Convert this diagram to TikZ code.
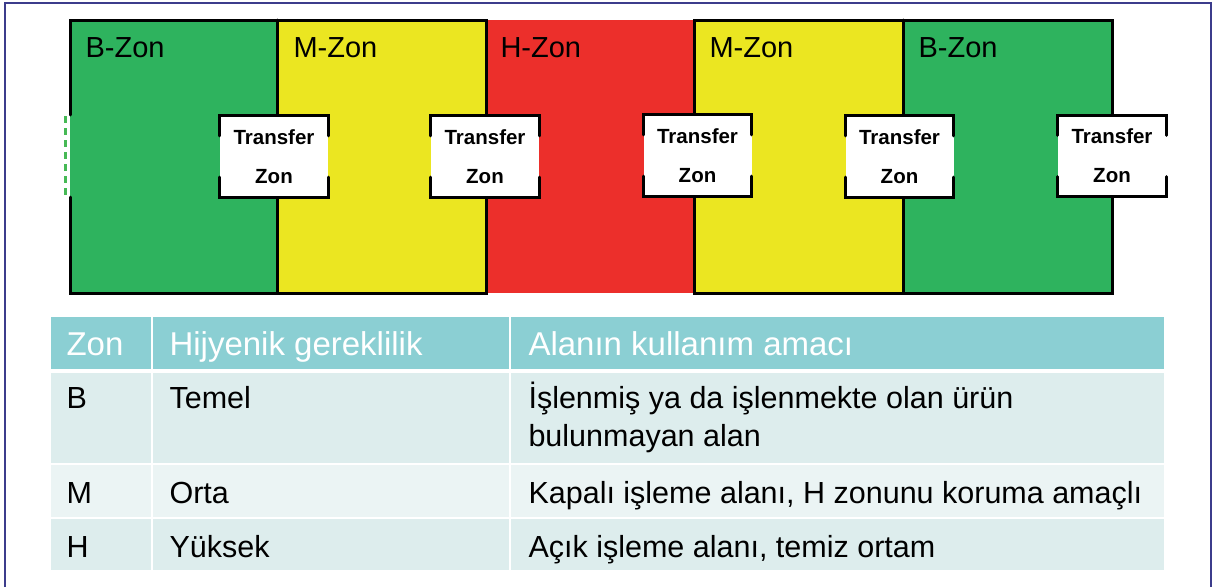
\documentclass[tikz,border=0pt]{standalone}
\usepackage{fontspec}
\setmainfont{Liberation Sans}
\definecolor{zgreen}{RGB}{46,179,94}
\definecolor{zyellow}{RGB}{235,230,33}
\definecolor{zred}{RGB}{236,47,43}
\definecolor{dashgreen}{RGB}{70,185,85}
\definecolor{thead}{RGB}{139,207,211}
\definecolor{trowa}{RGB}{221,237,237}
\definecolor{trowb}{RGB}{235,244,244}
\definecolor{frameblue}{RGB}{60,60,140}

\tikzset{
	wall/.style={line width=3pt, line cap=round},
	transfer/.style={fill=white, minimum width=108pt, minimum height=81pt, inner sep=0pt,
		align=center, font=\fontsize{20.5}{39}\selectfont\bfseries},
	zonlabel/.style={anchor=base west, font=\fontsize{29}{30}\selectfont},
	hdr/.style={anchor=base west, text=white, font=\fontsize{33}{36}\selectfont},
	txt/.style={anchor=base west, align=left, font=\fontsize{30.5}{38}\selectfont},
}

\begin{document}
\begin{tikzpicture}[x=1pt,y=-1pt]
		\useasboundingbox (0,0) rectangle (1217,587);
		\draw[frameblue, line width=1.5pt] (5,587) -- (5,3) -- (1211,3) -- (1211,587);

		% zones
		\fill[zgreen] (70,20) rectangle (277,293);
		\fill[zyellow] (277,20) rectangle (486,293);
		\fill[zred] (486,20) rectangle (694,293);
		\fill[zyellow] (694,20) rectangle (903,293);
		\fill[zgreen] (903,20) rectangle (1112,293);
		\draw[wall] (70,115) -- (70,20) -- (486,20) -- (486,293) -- (70,293) -- (70,197);
		\draw[wall] (277,20) -- (277,293);
		\draw[wall] (694,293) -- (694,20) -- (1112,20) -- (1112,293) -- cycle;
		\draw[wall] (903,20) -- (903,293);
		\draw[dashgreen, line width=3pt, dash pattern=on 7pt off 5pt] (65,116) -- (65,196);

		\node[zonlabel] (lb1) at (82,57) {B-Zon};
		\node[zonlabel] (lm1) at (290,57) {M-Zon};
		\node[zonlabel] (lh) at (497,57) {H-Zon};
		\node[zonlabel] (lm2) at (706,57) {M-Zon};
		\node[zonlabel] (lb2) at (915,57) {B-Zon};

		% transfer zones
		\node[transfer] (t1) at (274,156.5) {Transfer\\Zon};
		\node[transfer] (t2) at (485,156.5) {Transfer\\Zon};
		\node[transfer] (t3) at (697.5,155.5) {Transfer\\Zon};
		\node[transfer] (t4) at (899.5,156.5) {Transfer\\Zon};
		\node[transfer] (t5) at (1112,156) {Transfer\\Zon};
		\draw[wall] ([yshift=-20pt]t1.north west) |- (t1.north east) -- ++(0,-20pt)
			([yshift=20pt]t1.south west) |- (t1.south east) -- ++(0,20pt);
		\draw[wall] ([yshift=-20pt]t2.north west) |- (t2.north east) -- ++(0,-20pt)
			([yshift=20pt]t2.south west) |- (t2.south east) -- ++(0,20pt);
		\draw[wall] ([yshift=-20pt]t3.north west) |- (t3.north east) -- ++(0,-20pt)
			([yshift=20pt]t3.south west) |- (t3.south east) -- ++(0,20pt);
		\draw[wall] ([yshift=-20pt]t4.north west) |- (t4.north east) -- ++(0,-20pt)
			([yshift=20pt]t4.south west) |- (t4.south east) -- ++(0,20pt);
		\draw[wall] ([yshift=-20pt]t5.north west) |- (t5.north east) -- ++(0,-20pt)
			([yshift=20pt]t5.south west) |- (t5.south east) -- ++(0,20pt);

		% table
		\fill[thead] (51,317) rectangle (1164,369);
		\fill[trowa] (51,373) rectangle (1164,463);
		\fill[trowb] (51,463) rectangle (1164,518);
		\fill[trowa] (51,518) rectangle (1164,570);
		\draw[white, line width=2pt] (152,317) -- (152,570) (510,317) -- (510,570)
			(51,463.5) -- (1164,463.5) (51,518) -- (1164,518);

		\node[hdr] (h1) at (63,355) {Zon};
		\node[hdr] (h2) at (166,355) {Hijyenik gereklilik};
		\node[hdr] (h3) at (525,355) {Alanın kullanım amacı};
		\node[txt] (zb) at (63,408) {B};
		\node[txt] (gb) at (166,408) {Temel};
		\node[txt] (ab) at (525,446) {İşlenmiş ya da işlenmekte olan ürün\\bulunmayan alan};
		\node[txt] (zm) at (63,503) {M};
		\node[txt] (gm) at (166,503) {Orta};
		\node[txt] (am) at (525,503) {Kapalı işleme alanı, H zonunu koruma amaçlı};
		\node[txt] (zh) at (63,557) {H};
		\node[txt] (gh) at (166,557) {Yüksek};
		\node[txt] (ah) at (525,557) {Açık işleme alanı, temiz ortam};
\end{tikzpicture}
\end{document}
